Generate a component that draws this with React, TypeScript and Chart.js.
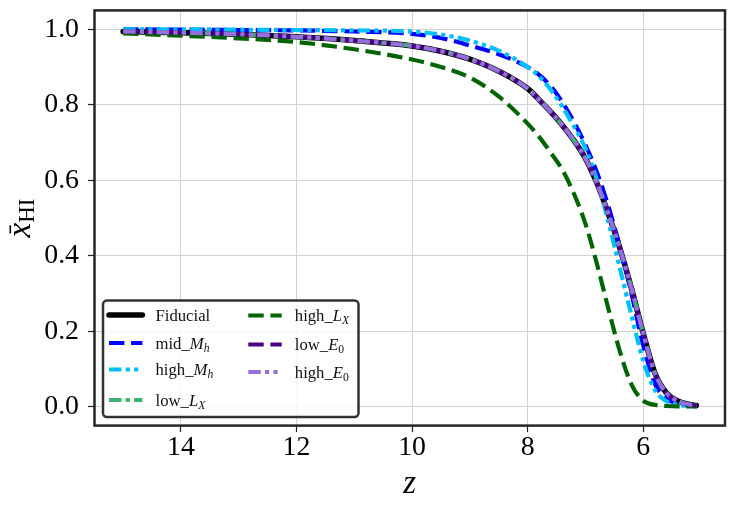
import React, { useEffect, useRef } from 'react';
import { Chart, registerables } from 'chart.js';

Chart.register(...registerables);

// ---------- data ----------
const redshift = [15, 14, 13, 12, 11, 10, 9.5, 9, 8.5, 8, 7.8, 7.6, 7.4, 7.2, 7.0, 6.8, 6.6, 6.4, 6.2, 6.0, 5.8, 5.6, 5.4, 5.2, 5.08];
const fiducial = [0.994, 0.991, 0.987, 0.980, 0.970, 0.956, 0.942, 0.921, 0.889, 0.843, 0.813, 0.781, 0.746, 0.706, 0.658, 0.592, 0.510, 0.418, 0.312, 0.195, 0.090, 0.037, 0.015, 0.006, 0.003];
const midMh = [1.0, 0.999, 0.998, 0.997, 0.994, 0.988, 0.977, 0.957, 0.934, 0.900, 0.879, 0.849, 0.807, 0.755, 0.694, 0.621, 0.530, 0.422, 0.298, 0.163, 0.062, 0.022, 0.008, 0.003, 0.002];
const highMh = [1.0, 1.0, 0.999, 0.998, 0.997, 0.994, 0.986, 0.970, 0.943, 0.900, 0.875, 0.840, 0.795, 0.743, 0.685, 0.600, 0.488, 0.365, 0.240, 0.122, 0.045, 0.015, 0.005, 0.002, 0.001];
const lowLx = [0.994, 0.991, 0.987, 0.980, 0.970, 0.956, 0.942, 0.921, 0.889, 0.843, 0.813, 0.781, 0.746, 0.706, 0.658, 0.592, 0.510, 0.418, 0.312, 0.195, 0.090, 0.037, 0.015, 0.006, 0.003];
const highLx = [0.989, 0.983, 0.976, 0.966, 0.947, 0.920, 0.900, 0.872, 0.822, 0.750, 0.715, 0.673, 0.628, 0.565, 0.485, 0.378, 0.258, 0.145, 0.058, 0.016, 0.005, 0.002, 0.001, 0.001, 0.001];
const lowE0 = [0.994, 0.991, 0.987, 0.980, 0.970, 0.956, 0.942, 0.921, 0.889, 0.843, 0.813, 0.781, 0.746, 0.706, 0.658, 0.592, 0.510, 0.418, 0.312, 0.195, 0.090, 0.037, 0.015, 0.006, 0.003];
const highE0 = [0.994, 0.991, 0.987, 0.980, 0.970, 0.956, 0.942, 0.921, 0.889, 0.843, 0.813, 0.781, 0.746, 0.706, 0.658, 0.592, 0.510, 0.418, 0.312, 0.195, 0.090, 0.037, 0.015, 0.006, 0.003];

const xTickValues = [14, 12, 10, 8, 6];
const yTickValues = [0.0, 0.2, 0.4, 0.6, 0.8, 1.0];

type Part = { t: string; it?: boolean; sub?: boolean };
const legendLabels: Part[][] = [
  [{ t: 'Fiducial' }],
  [{ t: 'mid_' }, { t: 'M', it: true }, { t: 'h', it: true, sub: true }],
  [{ t: 'high_' }, { t: 'M', it: true }, { t: 'h', it: true, sub: true }],
  [{ t: 'low_' }, { t: 'L', it: true }, { t: 'X', it: true, sub: true }],
  [{ t: 'high_' }, { t: 'L', it: true }, { t: 'X', it: true, sub: true }],
  [{ t: 'low_' }, { t: 'E', it: true }, { t: '0', sub: true }],
  [{ t: 'high_' }, { t: 'E', it: true }, { t: '0', sub: true }],
];

const FONT = '"Liberation Serif", "DejaVu Serif", serif';

function drawRich(ctx: CanvasRenderingContext2D, x: number, y: number, parts: Part[], size: number) {
  let cx = x;
  for (const p of parts) {
    const s = p.sub ? size * 0.7 : size;
    ctx.font = `${p.it ? 'italic ' : ''}${s}px ${FONT}`;
    ctx.fillText(p.t, cx, p.sub ? y + size * 0.2 : y);
    cx += ctx.measureText(p.t).width;
  }
}

const framePlugin = {
  id: 'frame',
  afterDatasetsDraw(chart: any) {
    const { ctx, chartArea: a } = chart;
    ctx.save();
    ctx.lineWidth = 2.5;
    ctx.strokeStyle = '#262626';
    ctx.strokeRect(a.left, a.top, a.right - a.left, a.bottom - a.top);
    ctx.restore();
  },
};

const overlayPlugin = {
  id: 'overlay',
  afterDraw(chart: any) {
    const ctx: CanvasRenderingContext2D = chart.ctx;
    const a = chart.chartArea;
    ctx.save();
    ctx.fillStyle = '#000';
    ctx.textBaseline = 'alphabetic';

    // x title
    ctx.font = `italic 33px ${FONT}`;
    ctx.textAlign = 'center';
    ctx.fillText('z', (a.left + a.right) / 2, 493);

    // y title
    ctx.textAlign = 'left';
    ctx.save();
    ctx.translate(29.5, (a.top + a.bottom) / 2);
    ctx.rotate(-Math.PI / 2);
    ctx.font = `italic 33px ${FONT}`;
    const wx = ctx.measureText('x').width;
    ctx.font = `23px ${FONT}`;
    const wh = ctx.measureText('HI').width;
    const start = -(wx + wh) / 2;
    ctx.font = `italic 33px ${FONT}`;
    ctx.fillText('x', start, 0);
    ctx.fillRect(start + wx * 0.28, -20, wx * 0.55, 1.6);
    ctx.font = `23px ${FONT}`;
    ctx.fillText('HI', start + wx, 4);
    ctx.restore();

    // legend
    const bx = 103, by = 300.5, bw = 255.5, bh = 116.5;
    ctx.beginPath();
    (ctx as any).roundRect(bx, by, bw, bh, 4);
    ctx.fillStyle = 'rgba(255,255,255,0.8)';
    ctx.fill();
    ctx.lineWidth = 2.5;
    ctx.strokeStyle = '#333';
    ctx.stroke();

    const rows = [[315, 343, 369.5, 400], [315.5, 344.5, 372]];
    const cols = [109, 248.3];
    const sampleLen = 33.4;
    const textGap = 46.5;
    chart.data.datasets.forEach((ds: any, i: number) => {
      const c = i < 4 ? 0 : 1;
      const r = i < 4 ? i : i - 4;
      const y = rows[c][r];
      const x0 = cols[c];
      ctx.save();
      ctx.beginPath();
      ctx.strokeStyle = ds.borderColor;
      ctx.lineWidth = ds.borderWidth;
      ctx.lineCap = ds.borderCapStyle || 'butt';
      ctx.setLineDash(ds.borderDash || []);
      ctx.moveTo(x0, y);
      ctx.lineTo(x0 + sampleLen, y);
      ctx.stroke();
      ctx.restore();
      ctx.fillStyle = '#111';
      drawRich(ctx, x0 + textGap, y + 5.5, legendLabels[i], 16.7);
    });
    ctx.restore();
  },
};

function series(label: string, vals: number[], color: string, width: number, dash: number[], cap: CanvasLineCap, order: number) {
  return {
    label,
    data: redshift.map((z, i) => ({ x: z, y: vals[i] })),
    borderColor: color,
    backgroundColor: color,
    borderWidth: width,
    borderDash: dash,
    borderCapStyle: cap,
    borderJoinStyle: 'round' as CanvasLineJoin,
    pointRadius: 0,
    pointHoverRadius: 0,
    fill: false,
    cubicInterpolationMode: 'monotone' as const,
    order,
  };
}

export default function App() {
  const ref = useRef<HTMLCanvasElement | null>(null);
  useEffect(() => {
    if (!ref.current) return;
    const lw = 4.17;
    const dashed = [15.4, 6.7];
    const dashDot = [12.5, 4.2, 4.2, 4.2];
    const dashDotDot = [12.5, 4.2, 4.2, 4.2, 4.2, 4.2];
    const chart = new Chart(ref.current, {
      type: 'line',
      data: {
        datasets: [
          series('Fiducial', fiducial, '#000000', 5.56, [], 'round', 7),
          series('mid_Mh', midMh, '#0000ff', lw, dashed, 'butt', 6),
          series('high_Mh', highMh, '#00bfff', lw, dashDotDot, 'butt', 5),
          series('low_Lx', lowLx, '#3cb371', lw, dashDot, 'butt', 4),
          series('high_Lx', highLx, '#006400', lw, dashed, 'butt', 3),
          series('low_E0', lowE0, '#4b0082', lw, dashed, 'butt', 2),
          series('high_E0', highE0, '#9370db', lw, dashDotDot, 'butt', 1),
        ] as any,
      },
      options: {
        animation: false,
        responsive: false,
        events: [],
        layout: { padding: { top: 10.4, right: 9, left: 0, bottom: 0 } },
        plugins: { legend: { display: false }, tooltip: { enabled: false }, title: { display: false } },
        scales: {
          x: {
            type: 'linear',
            reverse: true,
            min: 4.584,
            max: 15.496,
            afterFit: (s: any) => { s.height = 83.4; s.paddingLeft = 0; s.paddingRight = 0; },
            afterBuildTicks: (s: any) => { s.ticks = xTickValues.map((v) => ({ value: v })); },
            grid: { color: '#d4d4d4', lineWidth: 1, drawTicks: true, tickLength: 6.5, tickColor: '#222', tickWidth: 1.2 },
            border: { display: false },
            ticks: {
              color: '#000',
              padding: 2,
              maxRotation: 0,
              autoSkip: false,
              font: { family: FONT, size: 27.8, lineHeight: 1 },
              callback: (v: any) => String(v),
            },
          },
          y: {
            type: 'linear',
            min: -0.05,
            max: 1.05,
            afterFit: (s: any) => { s.width = 94.5; s.paddingTop = 0; s.paddingBottom = 0; },
            afterBuildTicks: (s: any) => { s.ticks = yTickValues.map((v) => ({ value: v })); },
            grid: { color: '#d4d4d4', lineWidth: 1, drawTicks: true, tickLength: 6.5, tickColor: '#222', tickWidth: 1.2 },
            border: { display: false },
            ticks: {
              color: '#000',
              padding: 9,
              autoSkip: false,
              font: { family: FONT, size: 27.8, lineHeight: 1 },
              callback: (v: any) => Number(v).toFixed(1),
            },
          },
        },
      },
      plugins: [framePlugin, overlayPlugin],
    });
    return () => chart.destroy();
  }, []);
  return (
    <div style={{ position: 'absolute', left: 0, top: 0, width: 734, height: 509, background: '#fff' }}>
      <canvas ref={ref} width={734} height={509} style={{ display: 'block', width: 734, height: 509 }} />
    </div>
  );
}
